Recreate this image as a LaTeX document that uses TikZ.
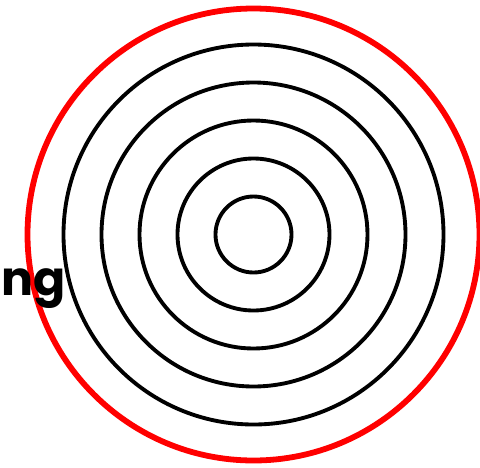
\documentclass[tikz,border=0pt]{standalone}
\usepackage{fontspec}
\setmainfont{Poppins}
\usetikzlibrary{positioning}

\begin{document}
\begin{tikzpicture}[
    ring/.style={draw=black, line width=2.2pt},
    outer/.style={draw=red, line width=3.3pt},
    word/.style={font=\fontsize{27}{33}\selectfont\bfseries, inner sep=0pt}
  ]
    \useasboundingbox (0,0) rectangle (9.6,-9.34);
    \coordinate (centre) at (5.07,-4.69);

    \foreach \r in {0.76,1.52,2.28,3.04,3.8}
      \draw[ring] (centre) circle (\r);
    \draw[outer] (centre) circle (4.52);

    \node[word, anchor=base west] (label) at (0.03,-5.9) {ng};
  \end{tikzpicture}
\end{document}
